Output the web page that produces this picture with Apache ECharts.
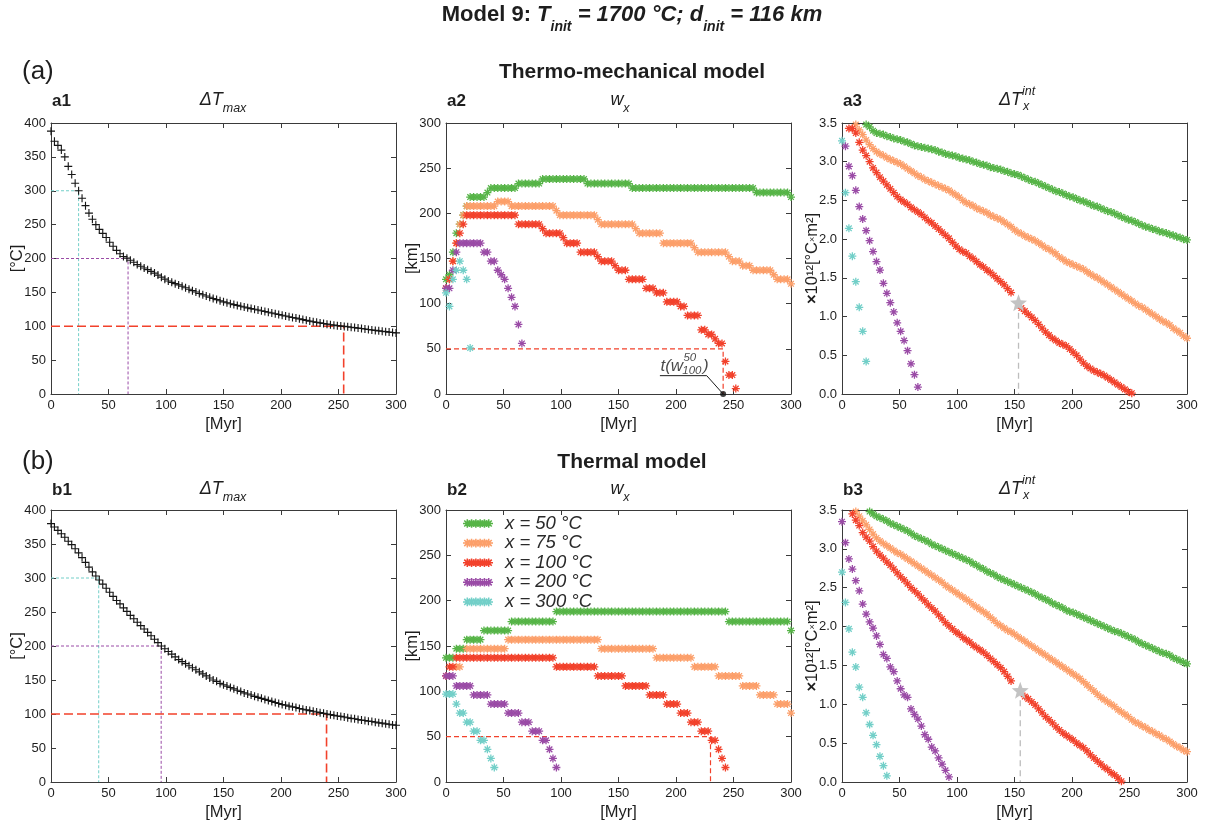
<!DOCTYPE html>
<html><head><meta charset="utf-8">
<script src="https://cdn.jsdelivr.net/npm/echarts@6/dist/echarts.min.js"></script>
<style>html,body{margin:0;padding:0;background:#fff}#c{width:1205px;height:828px}</style>
</head><body><div id="c"></div>
<script>
// ---------------- DATA ----------------
const TIME = [0,3,6,9,12,15,18,21,24,27,30,33,36,39,42,45,48,51,54,57,60,63,66,69,72,75,78,81,84,87,90,93,96,99,102,105,108,111,114,117,120,123,126,129,132,135,138,141,144,147,150,153,156,159,162,165,168,171,174,177,180,183,186,189,192,195,198,201,204,207,210,213,216,219,222,225,228,231,234,237,240,243,246,249,252,255,258,261,264,267,270,273,276,279,282,285,288,291,294,297,300];
const X_TICKS = [0,50,100,150,200,250,300];
const SERIES_NAMES = ['x = 50 °C','x = 75 °C','x = 100 °C','x = 200 °C','x = 300 °C'];

// (a) thermo-mechanical model
const a_dTmax = [388,373,367,360,350,336,324,311,300,289,278,267,258,250,243,237,231,224,218,212,207,203,200.5,197.5,194.5,191,188.5,186,183.5,181,178.5,175.5,172.5,169.5,
166.8,164.8,162.9,161,159,156.9,154.7,152.5,150.5,148.4,146.5,144.6,142.8,141,139.3,137.6,136,134.6,133.3,132,130.8,129.6,128.4,127.2,126.1,125,123.9,122.8,121.7,120.6,119.5,118.4,117.3,116.2,115.1,114,113,112,110.9,109.8,108.7,107.6,
106.7,105.8,104.9,104,103.1,102.3,101.6,100.9,100.3,99.8,99.2,98.6,98,97.3,96.6,95.9,95.2,94.5,93.9,93.2,92.6,92,91.4,90.8,90.2];
const a_levels = [300,200,100];
const a_cross = [24,67,254.5];

const a_w50 = [127,132,157,178,188,198,208,
218,218,218,218,218,
223,
228,228,228,228,228,228,228,228,
233,233,233,233,233,233,233,
238,238,238,238,238,238,238,238,238,238,238,238,238,
233,233,233,233,233,233,233,233,233,233,233,233,233,
228,228,228,228,228,228,228,228,228,228,228,228,228,228,228,228,228,228,228,228,228,228,228,228,228,228,228,228,228,228,228,228,228,228,228,228,
223,223,223,223,223,223,223,223,223,223,
218];
const a_w75 = [117,127,147,167,188,198,
208,208,208,208,208,208,208,208,208,
213,213,213,213,
208,208,208,208,208,208,208,208,208,208,208,208,208,
203,
198,198,198,198,198,198,198,198,198,198,198,
193,
188,188,188,188,188,188,188,188,188,188,
183,
178,178,178,178,178,178,178,
167,167,167,167,167,167,167,167,167,
162,
157,157,157,157,157,157,157,157,157,
152,
147,147,147,
142,142,142,
137,137,137,137,137,137,
132,
127,127,127,127,
122];
const a_w100 = [117,127,147,167,178,188,
198,198,198,198,198,198,198,198,198,198,198,198,198,198,198,
188,188,188,188,188,188,188,
183,
178,178,178,178,178,
173,
167,167,167,167,
157,157,157,157,157,
152,
147,147,147,147,
142,
137,137,137,
127,127,127,127,127,
117,117,117,
112,112,112,
102,102,102,102,
97,97,
87,87,87,87,
71,71,
66,66,
61,
56,56,
36,21,21,6];
const a_w200 = [117,117,137,157,167,167,167,167,167,167,167,157,157,147,147,137,132,127,117,107,97,77,56];
const a_w300 = [112,97,127,137,147,137,127,51];
const a_w_level = 50;
const a_w_cross = 241;
const a_leader = [[186,20.3],[226.7,20.3],[241,0]];

const a_I50 = [null,null,null,null,null,null,null,
3.48,3.45,3.40,3.37,3.36,3.35,3.33,3.32,3.30,3.29,
3.28,3.26,3.25,3.23,3.21,3.20,3.19,3.18,3.17,3.16,
3.15,3.13,3.12,3.10,3.09,3.08,3.07,3.05,3.04,3.03,
3.02,3.00,2.99,2.97,2.96,2.95,2.93,2.92,2.91,2.90,
2.88,2.87,2.85,2.84,2.83,2.81,2.79,2.77,2.75,2.74,
2.72,2.70,2.68,2.66,2.64,2.62,2.61,2.59,2.57,2.55,
2.54,2.52,2.50,2.49,2.47,2.45,2.43,2.42,2.40,2.38,
2.36,2.35,2.33,2.31,2.29,2.27,2.25,2.24,2.22,2.20,
2.18,2.16,2.15,2.13,2.12,2.10,2.09,2.08,2.06,2.05,
2.03,2.02,2.00,1.99];
const a_I75 = [null,null,null,null,
3.48,3.41,3.35,3.28,3.22,3.17,3.13,3.10,3.08,3.05,
3.03,3.01,2.99,2.97,2.94,2.91,2.88,2.85,2.82,2.80,
2.77,2.75,2.73,2.71,2.69,2.67,2.65,2.63,2.60,2.57,
2.54,2.50,2.47,2.45,2.43,2.40,2.38,2.36,2.34,2.31,
2.29,2.27,2.25,2.22,2.19,2.16,2.12,2.09,2.07,2.04,
2.02,2.00,1.98,1.95,1.92,1.89,1.87,1.84,1.81,1.77,
1.74,1.71,1.69,1.67,1.65,1.63,1.61,1.58,1.55,1.52,
1.50,1.47,1.44,1.41,1.38,1.35,1.32,1.29,1.26,1.23,
1.20,1.17,1.14,1.12,1.09,1.06,1.03,1.00,0.97,0.94,
0.92,0.89,0.85,0.82,0.79,0.75,0.72];
const a_I100 = [null,null,
3.43,3.43,3.37,3.25,3.15,3.08,3.00,2.92,2.86,2.80,
2.75,2.70,2.65,2.60,2.55,2.51,2.48,2.45,2.41,2.38,
2.35,2.32,2.28,2.24,2.21,2.17,2.13,2.09,2.05,2.01,
1.96,1.91,1.87,1.84,1.82,1.78,1.75,1.71,1.67,1.64,
1.60,1.57,1.53,1.49,1.45,1.41,1.36,1.31,
null,null,
1.11,1.07,1.03,0.99,0.95,0.90,0.85,0.80,0.76,0.72,
0.69,0.66,0.64,0.62,0.58,0.54,0.50,0.45,0.40,0.36,
0.33,0.30,0.28,0.26,0.24,0.21,0.18,0.15,0.12,0.09,
0.06,0.03,0.01];
const a_I200 = [null,3.20,2.94,2.82,2.63,2.42,2.26,2.11,1.98,1.84,1.71,1.60,1.43,1.30,1.18,1.06,0.92,0.81,0.69,0.56,0.39,0.25,0.09];
const a_I300 = [3.27,2.60,2.14,1.78,1.45,1.12,0.81,0.42];
const a_star = [153.5,1.18];

// (b) thermal model
const b_dTmax = [380,375,370,365,360,354,349,343,337,330,
323,316,309,303,297,291,285,279,273,267,
262,256,251,245,240,235,230,225,220,215,
210,205,200,196,192,188,184,180,177,174,
171,168,165,162,159,156,153,150,148,145,
143,141,139,137,135,133,131,129.5,128,126,
124.5,123,121.5,120,118.5,117,115.5,114,113,111.5,
110.5,109.5,108,107,106,105,104,103,102,101,
100,99,98,97,96.5,95.5,94.5,93.5,93,92,
91,90.5,89.5,89,88,87,86.5,85.5,85,84,83.5];
const b_levels = [300,200,100];
const b_cross = [41.5,95.8,239.6];

const b_w50 = [137,137,137,147,147,147,
157,157,157,157,157,
167,167,167,167,167,167,167,167,
177,177,177,177,177,177,177,177,177,177,177,177,177,
188,188,188,188,188,188,188,188,188,188,188,188,188,188,188,188,188,188,188,188,188,188,188,188,188,
188,188,188,188,188,188,188,188,188,188,188,188,188,188,188,188,188,188,188,188,188,188,188,188,188,
177,177,177,177,177,177,177,177,177,177,177,177,177,177,177,177,177,177,
167];
const b_w75 = [null,null,null,127,127,null,
147,147,147,147,147,147,147,147,147,147,147,147,
157,157,157,157,157,157,157,157,157,157,157,157,157,157,157,157,157,157,157,157,157,157,157,157,157,157,157,
147,147,147,147,147,147,147,147,147,147,147,147,147,147,147,147,
137,137,137,137,137,137,137,137,137,137,137,
127,127,127,127,127,127,127,
117,117,117,117,117,117,117,
106,106,106,106,106,
96,96,96,96,96,
86,86,86,86,
76];
const b_w100 = [117,127,127,
137,137,137,137,137,137,137,137,137,137,137,137,137,137,137,137,137,137,137,137,137,137,137,137,137,137,137,137,137,
127,127,127,127,127,127,127,127,127,127,127,127,
117,117,117,117,117,117,117,117,
106,106,106,106,106,106,106,
96,96,96,96,96,
86,86,86,86,
76,76,76,
66,66,66,
56,56,56,
46,46,
36,26,16];
const b_w200 = [117,117,117,106,106,106,106,106,96,96,96,96,96,86,86,86,86,86,76,76,76,76,66,66,66,56,56,56,46,46,36,26,16];
const b_w300 = [97,97,97,86,76,76,66,66,56,56,46,46,36,26,16];
const b_w_level = 50;
const b_w_cross = 230;

const b_I50 = [null,null,null,null,null,null,null,null,
3.48,3.45,3.42,3.40,3.38,3.36,3.33,3.31,3.29,3.27,
3.25,3.23,3.20,3.17,3.15,3.13,3.11,3.09,3.06,3.04,
3.02,3.00,2.98,2.96,2.94,2.92,2.90,2.88,2.86,2.84,
2.81,2.79,2.76,2.74,2.71,2.69,2.67,2.64,2.62,2.60,
2.58,2.56,2.54,2.52,2.50,2.48,2.46,2.44,2.42,2.39,
2.37,2.35,2.33,2.30,2.28,2.26,2.24,2.21,2.19,2.18,
2.16,2.14,2.12,2.10,2.08,2.06,2.04,2.02,2.00,1.98,
1.96,1.94,1.93,1.91,1.89,1.87,1.85,1.83,1.80,1.78,
1.76,1.74,1.72,1.70,1.68,1.66,1.65,1.63,1.60,1.58,
1.56,1.54,1.52];
const b_I75 = [null,null,null,null,
3.48,3.42,3.36,3.31,3.25,3.19,3.14,3.10,3.07,3.04,
3.01,2.98,2.95,2.93,2.90,2.87,2.84,2.81,2.78,2.75,
2.72,2.69,2.66,2.63,2.60,2.57,2.53,2.50,2.47,2.44,
2.41,2.38,2.35,2.32,2.28,2.25,2.22,2.19,2.16,2.12,
2.08,2.04,2.01,1.98,1.95,1.93,1.90,1.87,1.84,1.81,
1.78,1.75,1.72,1.69,1.66,1.63,1.60,1.57,1.54,1.51,
1.48,1.45,1.42,1.39,1.36,1.33,1.29,1.25,1.21,1.17,
1.13,1.09,1.06,1.03,1.00,0.97,0.93,0.90,0.87,0.84,
0.80,0.77,0.75,0.72,0.70,0.67,0.65,0.62,0.60,0.57,
0.55,0.52,0.49,0.46,0.44,0.41,0.39];
const b_I100 = [null,null,null,
3.45,3.37,3.30,3.21,3.15,3.10,3.03,2.97,2.92,2.88,
2.83,2.79,2.74,2.69,2.64,2.60,2.55,2.50,2.46,2.42,
2.37,2.33,2.28,2.24,2.20,2.15,2.10,2.05,2.01,1.97,
1.93,1.90,1.86,1.83,1.80,1.76,1.73,1.70,1.67,1.63,
1.59,1.55,1.51,1.47,1.42,1.36,1.30,
null,null,null,
1.10,1.07,1.03,0.99,0.94,0.89,0.84,0.80,0.76,0.71,
0.67,0.63,0.60,0.57,0.54,0.50,0.47,0.44,0.40,0.35,
0.31,0.27,0.23,0.19,0.16,0.12,0.09,0.05,0.01];
const b_I200 = [3.35,3.08,2.87,2.74,2.59,2.46,2.29,2.16,2.06,1.98,1.88,1.77,1.64,1.59,1.48,1.42,1.30,1.20,1.12,1.09,0.94,0.87,0.81,0.72,0.61,0.55,0.45,0.40,0.31,0.23,0.15,0.065];
const b_I300 = [2.70,2.31,1.97,1.67,1.48,1.22,1.09,0.89,0.74,0.60,0.48,0.33,0.21,0.08];
const b_star = [155,1.18];

// ---------------- STYLE ----------------
const FONT = "'Liberation Sans', Arial, Helvetica, sans-serif";
const COLORS = ['#56b447','#fc9f6a','#f2412b','#9a4ba6','#72cfc8'];
const AX = '#3a3a3a';
const TXT = '#1e1e1e';

function rectArms(cx, cy, angles, L, W) {
  let d = '';
  angles.forEach(a => {
    const c = Math.cos(a), s = Math.sin(a);
    const P = (du, dv) => [cx + du*c - dv*s, cy + du*s + dv*c];
    const pts = [P(L,W), P(-L,W), P(-L,-W), P(L,-W)];
    d += 'M' + pts.map(p => p[0].toFixed(3) + ' ' + p[1].toFixed(3)).join(' L') + ' Z ';
  });
  return d;
}
const AST_ANG = [0, Math.PI/4, Math.PI/2, 3*Math.PI/4];
const AST = 'path://' + rectArms(5,5,AST_ANG,5,0.8);
const PLUS = 'path://' + rectArms(5,5,[0,Math.PI/2],5,0.7);
let rowD = ''; for (let k = 0; k < 6; k++) rowD += rectArms(5 + 5*k, 5, AST_ANG, 5, 0.9);
const AST_ROW = 'path://' + rowD;
let starD = 'M';
for (let k = 0; k < 10; k++) {
  const r = k % 2 ? 2.1 : 5, a = -Math.PI/2 + k*Math.PI/5;
  starD += (k ? ' L' : '') + (5 + r*Math.cos(a)).toFixed(3) + ' ' + (5 + r*Math.sin(a)).toFixed(3);
}
const STAR = 'path://' + starD + ' Z';

function pts(vals) {
  const out = [];
  vals.forEach((v, i) => { if (v !== null && v !== undefined) out.push([TIME[i], v]); });
  return out;
}

const LEFTS = [51, 446, 842];
const ROWS = [[123, 271], [510, 272]];
const grids = [];
ROWS.forEach(([top, h]) => LEFTS.forEach(l => grids.push({left: l, top: top, width: 345, height: h, containLabel: false, outerBoundsMode: 'none', show: false})));

const PANEL_Y = [
  {min: 0, max: 400, interval: 50, name: '[°C]'},
  {min: 0, max: 300, interval: 50, name: '[km]'},
  {min: 0, max: 3.5, interval: 0.5, name: '{b|×}10¹²[°C{s|×}m²]', fmt: v => v.toFixed(1)}
];

const xAxes = [], yAxes = [];
for (let g = 0; g < 6; g++) {
  const base = {
    type: 'value', gridIndex: g, min: 0, max: 300, interval: 50,
    axisLine: {show: true, onZero: false, lineStyle: {color: AX, width: 1}},
    axisTick: {show: true, inside: true, length: 5, lineStyle: {color: AX, width: 1}},
    splitLine: {show: false}, nameMoveOverlap: false
  };
  xAxes.push(Object.assign({}, base, {
    position: 'bottom',
    axisLabel: {show: true, color: TXT, fontSize: 13, fontFamily: FONT, margin: 5},
    name: '[Myr]', nameLocation: 'middle', nameGap: 22,
    nameTextStyle: {fontSize: 16.5, color: TXT, fontFamily: FONT}
  }));
  xAxes.push(Object.assign({}, base, {position: 'top', axisLabel: {show: false}}));
  const p = PANEL_Y[g % 3];
  const ybase = Object.assign({}, base, {min: p.min, max: p.max, interval: p.interval});
  yAxes.push(Object.assign({}, ybase, {
    position: 'left',
    axisLabel: {show: true, color: TXT, fontSize: 13, fontFamily: FONT, margin: 5, formatter: p.fmt},
    name: p.name, nameLocation: 'middle', nameGap: g % 3 === 2 ? 21 : 25, nameRotate: 90,
    nameTextStyle: {fontSize: 16.5, color: TXT, fontFamily: FONT,
      rich: {b: {fontSize: 16.5, fontWeight: 'bold', fontFamily: FONT, color: TXT}, s: {fontSize: 9, fontFamily: FONT, color: TXT}}}
  }));
  yAxes.push(Object.assign({}, ybase, {position: 'right', axisLabel: {show: false}}));
}

const series = [];
function ax(g) { return {xAxisIndex: 2*g, yAxisIndex: 2*g}; }
function dash(g, data, color, width, type) {
  series.push(Object.assign({type: 'line', data: data, symbol: 'none', silent: true, animation: false, z: 1,
    lineStyle: {color: color, width: width, type: type}}, ax(g)));
}
function scat(g, name, data, symbol, size, color, z) {
  series.push(Object.assign({type: 'scatter', name: name, data: data, symbol: symbol, symbolSize: size, silent: true,
    animation: false, z: z || 3, itemStyle: {color: color, opacity: 1}}, ax(g)));
}

// Delta T max panels
[[0, a_dTmax, a_cross], [3, b_dTmax, b_cross]].forEach(([g, vals, cross]) => {
  const levels = g === 0 ? a_levels : b_levels;
  dash(g, [[0, levels[0]], [cross[0], levels[0]], [cross[0], 0]], COLORS[4], 1, [3, 2]);
  dash(g, [[0, levels[1]], [cross[1], levels[1]], [cross[1], 0]], COLORS[3], 1, [3, 2]);
  dash(g, [[0, levels[2]], [cross[2], levels[2]], [cross[2], 0]], COLORS[2], 1.6, [9, 4]);
  scat(g, 'dTmax', pts(vals), PLUS, 8, '#161616', 3);
});

// w_x panels
[[1, [a_w50, a_w75, a_w100, a_w200, a_w300], a_w_level, a_w_cross], [4, [b_w50, b_w75, b_w100, b_w200, b_w300], b_w_level, b_w_cross]].forEach(([g, arr, lev, cr]) => {
  dash(g, [[0, lev], [cr, lev], [cr, 0]], COLORS[2], 1.2, [5, 3]);
  arr.forEach((vals, k) => scat(g, SERIES_NAMES[k], pts(vals), AST, 8, COLORS[k], 3));
});

// annotation t(w^50_100)
series.push(Object.assign({type: 'line', data: a_leader, symbol: 'none', silent: true, animation: false, z: 6,
  lineStyle: {color: '#1a1a1a', width: 1}}, ax(1)));
series.push(Object.assign({type: 'scatter', data: [a_leader[2]], symbol: 'circle', symbolSize: 6, clip: false, silent: true,
  animation: false, z: 7, itemStyle: {color: '#111'}}, ax(1)));
function lbl(g, x, y, text, size, align) {
  series.push(Object.assign({type: 'scatter', data: [[x, y]], symbolSize: 0, silent: true, animation: false, z: 8,
    label: {show: true, position: 'inside', formatter: text, align: align, verticalAlign: 'middle',
      fontSize: size, fontStyle: 'italic', fontFamily: FONT, color: '#1a1a1a'}}, ax(g)));
}
lbl(1, 186.5, 30.5, 't(w', 17, 'left');
lbl(1, 212.0, 40.5, '50', 11.5, 'center');
lbl(1, 213.8, 25.5, '100', 11.5, 'center');
lbl(1, 226.0, 30.5, ')', 17, 'center');

// integrated panels
[[2, [a_I50, a_I75, a_I100, a_I200, a_I300], a_star], [5, [b_I50, b_I75, b_I100, b_I200, b_I300], b_star]].forEach(([g, arr, st]) => {
  dash(g, [[st[0], st[1]], [st[0], 0]], '#bdbdbd', 1.3, [6, 4]);
  arr.forEach((vals, k) => scat(g, SERIES_NAMES[k], pts(vals), AST, 8, COLORS[k], 3));
  scat(g, 'star', [st], STAR, 17, '#c3c3c3', 6);
});

// ---------------- TEXT ----------------
function T(x, y, text, st) {
  return {type: 'text', x: x, y: y, silent: true, z: 10,
    style: Object.assign({text: text, fill: TXT, fontFamily: FONT, fontSize: 16, align: 'left', textAlign: 'left',
      verticalAlign: 'middle', textVerticalAlign: 'middle'}, st)};
}
const RT = (size, extra) => Object.assign({fontSize: size, fontFamily: FONT, fill: TXT, color: TXT}, extra);
const titleRich = {
  b: RT(22, {fontWeight: 'bold', verticalAlign: 'bottom', padding: [0, 0, 8, 0]}),
  bi: RT(22, {fontWeight: 'bold', fontStyle: 'italic', verticalAlign: 'bottom', padding: [0, 0, 8, 0]}),
  sub: RT(14, {fontWeight: 'bold', fontStyle: 'italic', verticalAlign: 'bottom'})
};
const subRich = {
  m: RT(18, {fontStyle: 'italic', verticalAlign: 'bottom', padding: [0, 0, 6, 0]}),
  s: RT(12.5, {fontStyle: 'italic', verticalAlign: 'bottom'})
};
const supRich = {
  m: RT(18, {fontStyle: 'italic', verticalAlign: 'bottom', padding: [6, 0, 0, 0]}),
  p: RT(12.5, {fontStyle: 'italic', verticalAlign: 'top'})
};
const graphic = [
  T(632, 19, '{b|Model 9: }{bi|T}{sub|init}{bi| = 1700 °C; d}{sub|init}{bi| = 116 km}', {align: 'center', textAlign: 'center', rich: titleRich}),
  T(22, 72, '(a)', {fontSize: 26}),
  T(632, 72, 'Thermo-mechanical model', {fontSize: 21, fontWeight: 'bold', align: 'center', textAlign: 'center'}),
  T(22, 462, '(b)', {fontSize: 26}),
  T(632, 462, 'Thermal model', {fontSize: 21, fontWeight: 'bold', align: 'center', textAlign: 'center'})
];
[['a', 100], ['b', 489]].forEach(([r, y]) => {
  graphic.push(T(52, y + 1, r + '1', {fontSize: 17, fontWeight: 'bold'}));
  graphic.push(T(447, y + 1, r + '2', {fontSize: 17, fontWeight: 'bold'}));
  graphic.push(T(843, y + 1, r + '3', {fontSize: 17, fontWeight: 'bold'}));
  graphic.push(T(223, y + 3, '{m|ΔT}{s|max}', {align: 'center', textAlign: 'center', rich: subRich}));
  graphic.push(T(620, y + 3, '{m|w}{s|x}', {align: 'center', textAlign: 'center', rich: subRich}));
  graphic.push(T(999, y - 3, '{m|ΔT}{p|int}', {rich: supRich}));
  graphic.push(T(1023, y + 7, 'x', {fontSize: 12.5, fontStyle: 'italic'}));
});

const chart = echarts.init(document.getElementById('c'), null, {renderer: 'canvas'});
chart.setOption({
  animation: false,
  backgroundColor: '#ffffff',
  grid: grids,
  xAxis: xAxes,
  yAxis: yAxes,
  legend: {
    show: true, orient: 'vertical', left: 458, top: 509, itemWidth: 30, itemHeight: 9, itemGap: 0.6,
    icon: AST_ROW, data: SERIES_NAMES, selectedMode: false,
    textStyle: {fontSize: 18.5, fontStyle: 'italic', fontFamily: FONT, color: '#2a2a2a', lineHeight: 17, padding: [0, 0, 0, 7]}
  },
  series: series,
  graphic: graphic
});
</script>
</body></html>
